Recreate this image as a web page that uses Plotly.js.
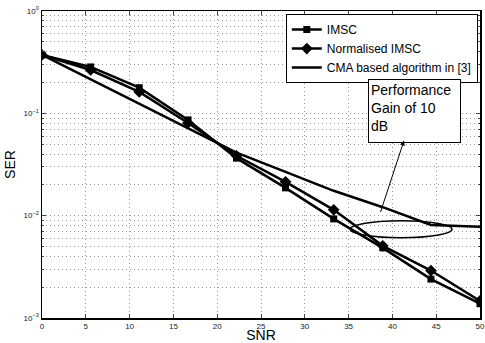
<!DOCTYPE html>
<html>
<head>
<meta charset="utf-8">
<script src="https://cdn.plot.ly/plotly-3.0.1.min.js"></script>
<style>html,body{margin:0;padding:0;background:#fff;}#chart{width:485px;height:343px;}</style>
</head>
<body>
<div id="chart"></div>
<script>
// Data
const snr = [0, 5.55, 11.1, 16.67, 22.2, 27.8, 33.3, 38.9, 44.4, 50];
const serIMSC = [0.372, 0.284, 0.178, 0.0862, 0.0365, 0.0187, 0.0093, 0.00485, 0.0024, 0.00138];
const serNormIMSC = [0.372, 0.265, 0.162, 0.0806, 0.0385, 0.0214, 0.0114, 0.00507, 0.00291, 0.00147];
const serCMA = [0.372, 0.214, 0.125, 0.072, 0.0413, 0.0268, 0.0175, 0.0121, 0.0081, 0.0078];
const seriesNames = ["IMSC", "Normalised IMSC", "CMA based algorithm in [3]"];
const xTicks = [0, 5, 10, 15, 20, 25, 30, 35, 40, 45, 50];
const yMajor = [0.001, 0.01, 0.1, 1];
const yMajorText = ["10<sup>−3</sup>", "10<sup>−2</sup>", "10<sup>−1</sup>", "10<sup>0</sup>"];
const yMinor = [];
[0.001, 0.01, 0.1].forEach(d => { for (let k = 2; k <= 9; k++) yMinor.push(+(d * k).toPrecision(3)); });
const noteText = "Performance<br>Gain of 10<br>dB";
// highlighted region (ellipse) around the CMA error floor
const ellipseX = [35.2, 46.8];
const ellipseY = [0.00607, 0.0089];

const font = "Liberation Sans, Arial, sans-serif";
const dotted = "1px,3px";
const traces = [
  {x: snr, y: serIMSC, name: seriesNames[0], mode: "lines+markers",
   line: {color: "#000", width: 2.5}, marker: {symbol: "square", size: 7, color: "#000"}},
  {x: snr, y: serNormIMSC, name: seriesNames[1], mode: "lines+markers",
   line: {color: "#000", width: 2.5}, marker: {symbol: "diamond", size: 9, color: "#000"}},
  {x: snr, y: serCMA, name: seriesNames[2], mode: "lines",
   line: {color: "#000", width: 2.5}}
];

const layout = {
  width: 485, height: 343,
  margin: {l: 42, r: 5, t: 11, b: 25},
  paper_bgcolor: "#fff", plot_bgcolor: "#fff",
  font: {family: font, color: "#000"},
  showlegend: true,
  legend: {x: 0.995, xanchor: "right", y: 0.99, yanchor: "top",
           bgcolor: "#fff", bordercolor: "#000", borderwidth: 1,
           font: {family: font, size: 12}, tracegroupgap: 0, itemwidth: 30},
  xaxis: {range: [0, 50], tickvals: xTicks, ticks: "inside", ticklen: 4,
          showline: true, linecolor: "#000", linewidth: 1.5, mirror: "allticks",
          showgrid: true, gridcolor: "#999", griddash: dotted, gridwidth: 1,
          zeroline: false, tickfont: {size: 8, color: "#222"},
          title: {text: "SNR", font: {size: 14}, standoff: 8}},
  yaxis: {type: "log", range: [-3, 0], tickmode: "array", tickvals: yMajor, ticktext: yMajorText,
          ticks: "inside", ticklen: 4,
          showline: true, linecolor: "#000", linewidth: 1.5, mirror: "allticks",
          showgrid: true, gridcolor: "#999", griddash: dotted, gridwidth: 1,
          minor: {tickmode: "array", tickvals: yMinor, ticks: "inside", ticklen: 2,
                  showgrid: true, gridcolor: "#999", griddash: dotted, gridwidth: 1},
          zeroline: false, tickfont: {size: 8, color: "#222"},
          title: {text: "SER", font: {size: 14}, standoff: 4}},
  shapes: [
    {type: "circle", xref: "x", yref: "y", x0: ellipseX[0], x1: ellipseX[1],
     y0: ellipseY[0], y1: ellipseY[1], line: {color: "#000", width: 1.5}}
  ],
  annotations: [
    {xref: "paper", yref: "paper", x: 0.7443, y: 0.777, xanchor: "left", yanchor: "top",
     text: noteText, align: "left", valign: "top", showarrow: false,
     width: 87, height: 58, bgcolor: "#fff", bordercolor: "#000", borderwidth: 1, borderpad: 2,
     font: {family: font, size: 14, color: "#000"}},
    {xref: "paper", yref: "paper", x: 0.8265, y: 0.578, text: "", showarrow: true,
     ax: -24, ay: 73, arrowhead: 2, arrowsize: 1, arrowwidth: 1, arrowcolor: "#000"}
  ]
};

Plotly.newPlot("chart", traces, layout, {displayModeBar: false, staticPlot: true});
</script>
</body>
</html>
